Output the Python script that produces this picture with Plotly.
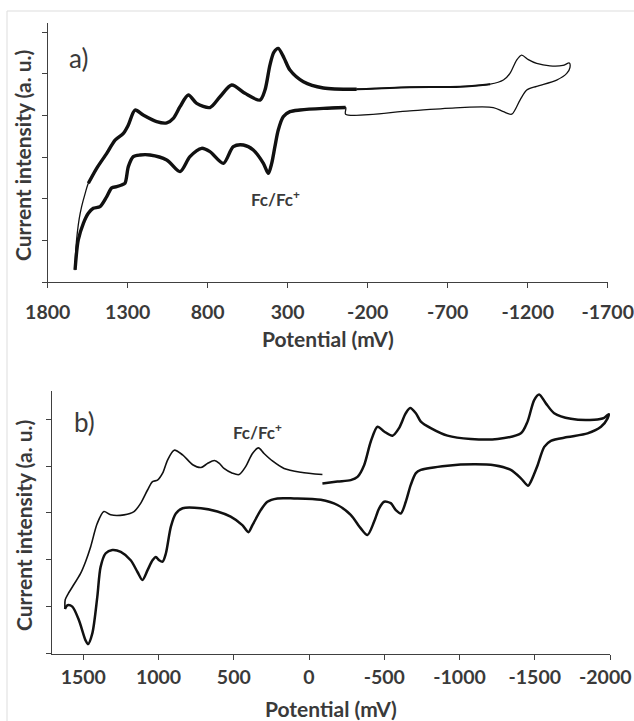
import plotly.graph_objects as go

# ---------------- data (panel a) ----------------
A_UP_E = [1629, 1624, 1615, 1603, 1588, 1568, 1546, 1494, 1431, 1379,
          1327, 1296, 1254, 1203, 1119, 1056, 1015, 973, 921, 869,
          786, 723, 650, 567, 473, 442, 411, 386, 359, 323,
          286, 202, 77, -131, -464, -777, -965, -1048, -1089, -1131,
          -1162, -1204, -1256, -1339, -1420, -1460]
A_UP_I = [0.29, 0.80, 1.18, 1.52, 1.81, 2.10, 2.37, 2.73, 3.09, 3.41,
          3.57, 3.77, 4.13, 4.01, 3.85, 3.82, 3.93, 4.21, 4.49, 4.29,
          4.19, 4.45, 4.73, 4.53, 4.37, 4.61, 5.21, 5.52, 5.61, 5.38,
          5.09, 4.81, 4.66, 4.63, 4.68, 4.69, 4.75, 4.85, 5.01, 5.33,
          5.45, 5.34, 5.25, 5.19, 5.20, 5.26]
A_DN_E = [-1464, -1444, -1381, -1256, -1194, -1152, -1100, -1048, -985, -777,
          -464, -62, -62, 77, 223, 286, 328, 359, 380, 400,
          421, 452, 515, 577, 640, 702, 786, 838, 911, 973,
          1056, 1161, 1223, 1265, 1296, 1317, 1338, 1369, 1400, 1431,
          1473, 1515, 1546, 1577, 1609, 1629]
A_DN_I = [5.15, 5.01, 4.85, 4.70, 4.61, 4.37, 4.03, 4.09, 4.19, 4.19,
          4.11, 4.03, 4.19, 4.17, 4.13, 4.09, 3.97, 3.65, 3.25, 2.85,
          2.61, 2.85, 3.17, 3.29, 3.25, 2.85, 3.13, 3.21, 3.01, 2.65,
          2.93, 3.05, 3.05, 3.01, 2.77, 2.37, 2.33, 2.29, 2.26, 2.05,
          1.81, 1.77, 1.65, 1.41, 1.01, 0.29]

# ---------------- data (panel b) ----------------
B_UPL_E = [1622, 1620, 1600, 1573, 1518, 1485, 1451, 1407, 1363, 1318,
           1229, 1163, 1118, 1073, 1040, 1007, 973, 940, 896, 840,
           773, 718, 673, 629, 596, 565, 509, 465, 421, 376,
           336, 299, 243, 166, 55, -89]
B_UPL_I = [0.95, 1.15, 1.28, 1.42, 1.71, 1.96, 2.28, 2.78, 3.03, 2.96,
           2.96, 3.03, 3.21, 3.49, 3.67, 3.70, 3.85, 4.13, 4.34, 4.24,
           4.03, 3.97, 4.06, 4.12, 4.06, 3.95, 3.85, 3.82, 3.99, 4.27,
           4.39, 4.27, 4.11, 3.95, 3.87, 3.82]
B_UPR_E = [-89, -189, -277, -322, -366, -410, -455, -499, -555, -598,
           -643, -672, -710, -743, -809, -920, -1075, -1253, -1408, -1452,
           -1496, -1529, -1574, -1629, -1740, -1895, -1961, -1991]
B_UPR_I = [3.63, 3.67, 3.70, 3.77, 4.02, 4.52, 4.84, 4.74, 4.65, 4.81,
           5.13, 5.24, 5.13, 4.95, 4.81, 4.65, 4.58, 4.58, 4.70, 4.95,
           5.41, 5.53, 5.34, 5.13, 5.01, 4.99, 5.03, 5.11]
B_DN_E = [-1984, -1940, -1851, -1718, -1607, -1563, -1519, -1474, -1456, -1408,
          -1341, -1230, -1097, -920, -743, -710, -676, -643, -610, -577,
          -543, -499, -466, -432, -388, -344, -277, -189, -78, 100,
          210, 277, 321, 376, 403, 443, 521, 609, 718, 840,
          885, 918, 951, 973, 996, 1018, 1040, 1073, 1107, 1140,
          1185, 1251, 1307, 1351, 1385, 1407, 1440, 1469, 1485, 1529,
          1573, 1605, 1622]
B_DN_I = [5.02, 4.84, 4.70, 4.62, 4.54, 4.41, 4.02, 3.67, 3.58, 3.74,
          3.92, 4.02, 4.04, 4.01, 3.92, 3.85, 3.60, 3.24, 2.99, 3.06,
          3.21, 3.24, 3.10, 2.81, 2.53, 2.67, 2.96, 3.17, 3.28, 3.31,
          3.31, 3.24, 3.06, 2.74, 2.59, 2.74, 2.92, 3.03, 3.10, 3.10,
          2.99, 2.71, 2.14, 1.96, 1.99, 2.06, 1.99, 1.78, 1.57, 1.74,
          1.99, 2.17, 2.21, 2.14, 1.85, 1.21, 0.43, 0.20, 0.28, 0.71,
          1.00, 1.03, 0.95]

A_TICKS = [1800, 1300, 800, 300, -200, -700, -1200, -1700]
B_TICKS = [1500, 1000, 500, 0, -500, -1000, -1500, -2000]
X_TITLE = "Potential (mV)"
Y_TITLE = "Current intensity (a. u.)"
FC_LABEL = "Fc/Fc<sup>+</sup>"

W, H = 634, 721
FONT = "Lato"
TXT = "#3a3a3a"
AX = "#404040"
LINE = "#111111"
TICK_SIZE = 19.5


def px(x):
    return x / W


def py(y):
    return 1 - y / H


fig = go.Figure()

SPL = dict(shape="spline", smoothing=0.8)

# panel a: thin full loop
fig.add_trace(go.Scatter(x=A_UP_E + A_DN_E, y=A_UP_I + A_DN_I, mode="lines",
                         line=dict(color=LINE, width=1.3, **SPL),
                         xaxis="x", yaxis="y", hoverinfo="skip"))
# panel a: thick overlays
step = A_DN_E.index(-62) + 1
up_thick = [i for i, e in enumerate(A_UP_E) if -131 <= e <= 1546]
up_mid = [i for i, e in enumerate(A_UP_E) if -965 <= e <= -131]
fig.add_trace(go.Scatter(
    x=A_DN_E[step:] + [None] + [A_UP_E[i] for i in up_thick],
    y=A_DN_I[step:] + [None] + [A_UP_I[i] for i in up_thick],
    mode="lines", connectgaps=False,
    line=dict(color=LINE, width=3.4, **SPL),
    xaxis="x", yaxis="y", hoverinfo="skip"))
fig.add_trace(go.Scatter(
    x=[A_UP_E[i] for i in up_mid], y=[A_UP_I[i] for i in up_mid],
    mode="lines", line=dict(color=LINE, width=2.0, **SPL),
    xaxis="x", yaxis="y", hoverinfo="skip"))

# panel b
fig.add_trace(go.Scatter(x=B_UPL_E, y=B_UPL_I, mode="lines",
                         line=dict(color=LINE, width=1.6, **SPL),
                         xaxis="x2", yaxis="y2", hoverinfo="skip"))
fig.add_trace(go.Scatter(x=B_UPR_E + B_DN_E, y=B_UPR_I + B_DN_I, mode="lines",
                         line=dict(color=LINE, width=2.5, **SPL),
                         xaxis="x2", yaxis="y2", hoverinfo="skip"))

common_x = dict(showgrid=False, zeroline=False, showline=True, linecolor=AX,
                linewidth=1.3, ticks="outside", ticklen=5, tickwidth=1.3,
                tickcolor=AX, automargin=False,
                tickfont=dict(family=FONT, size=TICK_SIZE, color=TXT,
                              weight="bold"))
common_y = dict(showgrid=False, zeroline=False, showline=True, linecolor=AX,
                linewidth=1.3, ticks="outside", ticklen=5, tickwidth=1.3,
                tickcolor=AX, showticklabels=False, automargin=False)

# the last panel-b tick label sits on the page edge; plotly would drop it,
# so it is drawn as an annotation instead
b_ticktext = [str(v) for v in B_TICKS[:-1]] + [""]

fig.update_layout(
    width=W, height=H, margin=dict(l=0, r=0, t=0, b=0),
    paper_bgcolor="white", plot_bgcolor="white", showlegend=False,
    xaxis=dict(domain=[px(47.7), px(607.7)], range=[1800, -1700],
               tickvals=A_TICKS, ticktext=[str(v) for v in A_TICKS],
               anchor="y", ticklabelstandoff=7, **common_x),
    yaxis=dict(domain=[py(282), py(23)], range=[0, 6.22],
               tickvals=[0, 1, 2, 3, 4, 5, 6], anchor="x", **common_y),
    xaxis2=dict(domain=[px(52), px(610)], range=[1708, -2000],
                tickvals=B_TICKS, ticktext=b_ticktext,
                anchor="y2", ticklabelstandoff=1, **common_x),
    yaxis2=dict(domain=[py(653.5), py(390.7)], range=[0, 5.61],
                tickvals=[0, 1, 2, 3, 4, 5], anchor="x2", **common_y),
)


def ann(text, x, y, size, bold=True, angle=0):
    fig.add_annotation(text=text, x=px(x), y=py(y), xref="paper", yref="paper",
                       showarrow=False, xanchor="center", yanchor="middle",
                       textangle=angle,
                       font=dict(family=FONT, size=size, color=TXT,
                                 weight="bold" if bold else "normal"))


ann("a)", 78, 58, 26, bold=False)
ann("b)", 84, 422, 26, bold=False)
ann(FC_LABEL, 275, 198, 17)
ann(FC_LABEL, 257, 432, 17)
ann(X_TITLE, 327.7, 338, 21)
ann(X_TITLE, 331, 708, 21)
ann(Y_TITLE, 22, 156, 21, angle=-90)
ann(Y_TITLE, 23, 526, 21, angle=-90)

# last tick label of panel b, kept just inside the right page edge
fig.add_annotation(text=str(B_TICKS[-1]), x=px(633), xref="paper",
                   y=py(676), yref="paper", showarrow=False,
                   xanchor="right", yanchor="middle", borderpad=0,
                   font=dict(family=FONT, size=TICK_SIZE, color=TXT,
                             weight="bold"))

# light frame
fig.add_shape(type="line", xref="paper", yref="paper", x0=px(7), x1=1,
              y0=py(11), y1=py(11), line=dict(color="#dddddd", width=1))
fig.add_shape(type="line", xref="paper", yref="paper", x0=px(7), x1=px(7),
              y0=py(11), y1=0, line=dict(color="#dddddd", width=1))

fig.write_html("out.html")
